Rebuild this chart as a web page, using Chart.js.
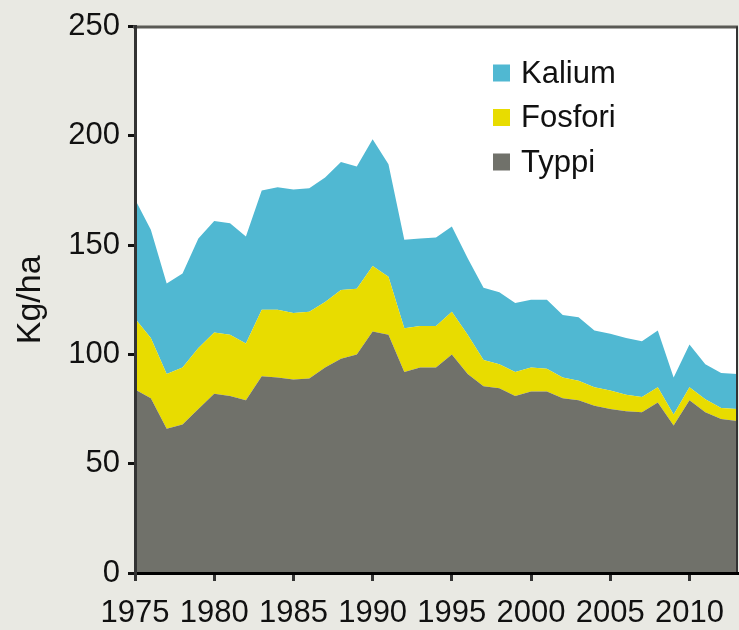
<!DOCTYPE html>
<html>
<head>
<meta charset="utf-8">
<script src="https://cdn.jsdelivr.net/npm/chart.js@4.4.1/dist/chart.umd.min.js"></script>
<style>
  html, body { margin: 0; padding: 0; background: #e9e9e3; }
  canvas { display: block; }
</style>
</head>
<body>
<canvas id="c" width="739" height="630"></canvas>
<script>
const years = [1975,1976,1977,1978,1979,1980,1981,1982,1983,1984,
               1985,1986,1987,1988,1989,1990,1991,1992,1993,1994,
               1995,1996,1997,1998,1999,2000,2001,2002,2003,2004,
               2005,2006,2007,2008,2009,2010,2011,2012,2013];
const typpi = [84,80,66,68,75,82,81,79,90,89.5,
               88.5,89,94,98,100,110.5,109,92,94,94,
               100,91,85.5,84.5,81,83,83,80,79,76.5,
               75,74,73.5,78,67.5,79,73.5,70.5,69.5];
const fosfori = [32.5,27.5,25,26,28,28,28,26,30.5,31,
                 30.5,30.5,30,31.5,30,30,26.5,20,19,19,
                 19.5,18,12,11,11,11,10.5,9.5,9,8.5,
                 8.5,7.5,7,7,5,6,6,5,5.5];
const kalium = [54.5,49.5,41.5,43,50,51,51,49,54.5,56,
                56.5,56.5,57,58.5,56,58,51.5,40.5,40,40.5,
                39,35,33,33,31.5,31,31.5,28.5,29,26,
                26,26,25.5,26,17,19.5,16,16,16];
const yTicks = [0,50,100,150,200,250];
const xTicks = [1975,1980,1985,1990,1995,2000,2005,2010];
const seriesNames = ['Typpi','Fosfori','Kalium'];
const axisTitle = 'Kg/ha';

const colors = { Typpi: '#70716a', Fosfori: '#e8dc00', Kalium: '#50b8d2' };
const normal = "'Liberation Sans', Arial, sans-serif";

function pts(vals) { return years.map((y, i) => ({ x: y, y: vals[i] })); }
const seriesData = [typpi, fosfori, kalium];

const datasets = seriesNames.map((name, i) => ({
  label: name,
  data: pts(seriesData[i]),
  backgroundColor: colors[name],
  borderColor: colors[name],
  borderWidth: 0,
  pointRadius: 0,
  tension: 0,
  fill: i === 0 ? 'origin' : '-1'
}));

const bgPlugin = {
  id: 'bg',
  beforeDraw(chart) {
    const { ctx, chartArea: a } = chart;
    ctx.save();
    ctx.fillStyle = '#e9e9e3';
    ctx.fillRect(0, 0, chart.width, chart.height);
    ctx.fillStyle = '#ffffff';
    ctx.fillRect(a.left, a.top, a.right - a.left, a.bottom - a.top);
    ctx.restore();
  },
  afterDatasetsDraw(chart) {
    const { ctx, chartArea: a } = chart;
    ctx.save();
    ctx.strokeStyle = '#5a5a55';
    ctx.lineWidth = 3;
    ctx.beginPath();
    ctx.moveTo(a.left - 2, a.top + 0.5);
    ctx.lineTo(a.right + 1, a.top + 0.5);
    ctx.stroke();
    ctx.strokeStyle = '#333333';
    ctx.lineWidth = 2;
    ctx.beginPath();
    ctx.moveTo(a.right, a.top);
    ctx.lineTo(a.right, a.bottom);
    ctx.stroke();
    ctx.restore();
  },
  afterDraw(chart) {
    const { ctx } = chart;
    const order = ['Kalium', 'Fosfori', 'Typpi'];
    ctx.save();
    ctx.font = "31px " + normal;
    ctx.textBaseline = 'middle';
    ctx.textAlign = 'left';
    order.forEach((name, i) => {
      const ds = chart.data.datasets.find(d => d.label === name);
      const cy = 73 + i * 44.5;
      ctx.fillStyle = ds.backgroundColor;
      ctx.fillRect(493, cy - 8.5, 17, 17);
      ctx.fillStyle = '#111111';
      ctx.fillText(name, 521, cy + 1);
    });
    ctx.restore();
  }
};

new Chart(document.getElementById('c'), {
  type: 'line',
  data: { datasets },
  plugins: [bgPlugin],
  options: {
    responsive: false,
    animation: false,
    devicePixelRatio: 1,
    layout: { padding: { top: 23, right: 2, left: 0, bottom: 0 } },
    plugins: { legend: { display: false }, tooltip: { enabled: false } },
    elements: { line: { borderWidth: 0 } },
    scales: {
      x: {
        type: 'linear',
        min: 1975,
        max: 2013,
        afterFit(s) { s.height = 57; },
        afterBuildTicks(s) { s.ticks = xTicks.map(v => ({ value: v })); },
        grid: { drawOnChartArea: false, drawTicks: true, tickLength: 8, tickColor: '#333333', lineWidth: 3 },
        border: { display: true, color: '#000000', width: 3, z: 1 },
        ticks: {
          autoSkip: false,
          maxRotation: 0,
          padding: 14,
          color: '#111111',
          font: { family: normal, size: 31 },
          callback: v => String(v)
        }
      },
      y: {
        stacked: true,
        min: 0,
        max: 250,
        afterFit(s) { s.width = 135; },
        afterBuildTicks(s) { s.ticks = yTicks.map(v => ({ value: v })); },
        grid: { drawOnChartArea: false, drawTicks: true, tickLength: 7, tickColor: '#111111', lineWidth: 3 },
        border: { display: true, color: '#333333', width: 3, z: 1 },
        ticks: {
          padding: 8,
          color: '#111111',
          font: { family: normal, size: 31 },
          callback: v => String(v)
        },
        title: {
          display: true,
          text: axisTitle,
          color: '#111111',
          font: { family: normal, size: 34 },
          padding: { top: 10, bottom: 0 }
        }
      }
    }
  }
});
</script>
</body>
</html>
